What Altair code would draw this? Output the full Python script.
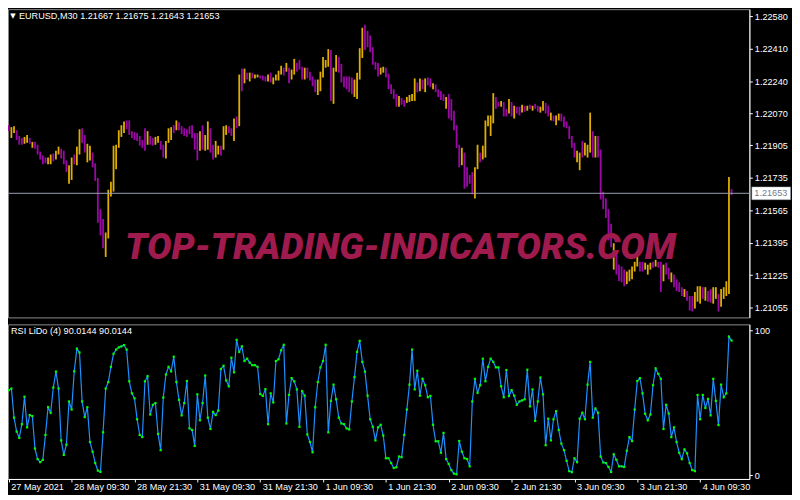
import altair as alt
import pandas as pd

SYMBOL_TITLE = "EURUSD,M30  1.21667 1.21675 1.21643 1.21653"
RSI_TITLE = "RSI LiDo (4) 90.0144 90.0144"
WATERMARK = "TOP-TRADING-INDICATORS.COM"
CURRENT_PRICE = [1.21653]
CURRENT_LABEL = ["1.21653"]

PRICE_TICKS = [1.22580, 1.22410, 1.22240, 1.22070, 1.21905, 1.21735,
               1.21565, 1.21395, 1.21225, 1.21055]
RSI_TICKS = [0, 100]
TIME_TICK_BARS = [0, 24, 48, 72, 96, 120, 144, 168, 192, 216, 240, 264]
TIME_LABELS = ["27 May 2021", "28 May 09:30", "28 May 21:30", "31 May 09:30",
               "31 May 21:30", "1 Jun 09:30", "1 Jun 21:30", "2 Jun 09:30",
               "2 Jun 21:30", "3 Jun 09:30", "3 Jun 21:30", "4 Jun 09:30"]

# bar highs / lows in points (1e-5), M30 bars from 27 May 21:30
HIGH_PTS = [
    122009, 121999, 122004, 121983, 121953, 121942, 121948, 121958, 121942, 121922,
    121922, 121907, 121871, 121851, 121840, 121840, 121856, 121861, 121876, 121897,
    121886, 121876, 121825, 121800, 121840, 121856, 121897, 121988, 121993, 121958,
    121912, 121902, 121866, 121810, 121733, 121570, 121519, 121448, 121672, 121713,
    121902, 121907, 121983, 122009, 122029, 122034, 122034, 121978, 121973, 121968,
    121953, 121932, 121993, 121978, 121953, 121942, 121948, 121953, 121927, 121907,
    121927, 121993, 121999, 122009, 122034, 122024, 122004, 121993, 121988, 122004,
    122009, 121968, 121968,
    121978, 122009, 121958, 122029, 121993, 121907, 121927, 121902, 121902, 122004,
    122009, 122004, 121993, 122044, 122055, 122274, 122305, 122305, 122284, 122284,
    122284, 122274, 122274, 122269, 122269, 122264, 122274, 122284, 122259, 122274,
    122294, 122320, 122310, 122335, 122310, 122300, 122356, 122335, 122350, 122315,
    122310, 122310, 122289, 122264, 122248, 122248, 122289, 122366, 122350, 122407,
    122402, 122310, 122376, 122366, 122330, 122264, 122264, 122264, 122259, 122248,
    122284, 122412, 122519, 122534, 122503, 122478, 122417, 122340, 122335, 122310,
    122315,
    122310, 122279, 122223, 122197, 122172, 122162, 122152, 122141, 122157, 122167,
    122172, 122254, 122233, 122254, 122248, 122254, 122259, 122254, 122228, 122223,
    122197, 122187, 122172, 122157, 122172, 122146, 122085, 122009, 121907, 121891,
    121866, 121789, 121749, 121764, 121789, 121907, 121866, 121902, 122034, 122060,
    122060, 122177, 122157, 122131, 122136, 122131, 122095, 122146, 122131, 122111,
    122106, 122106, 122116, 122111, 122111, 122116, 122111, 122121, 122111, 122106,
    122136, 122126, 122111, 122075, 122060, 122060, 122070, 122070, 122055, 122029,
    122004,
    121953, 121917, 121876, 121866, 121927, 121917, 121907, 122075, 121978, 121953,
    121953, 121881, 121662, 121626, 121570, 121494, 121392, 121341, 121280, 121270,
    121254, 121244, 121254, 121270, 121295, 121331, 121295, 121295, 121290, 121280,
    121290, 121295, 121305, 121295, 121295, 121280, 121290, 121264, 121239, 121228,
    121203, 121188, 121162, 121152, 121142, 121116, 121116, 121137, 121167, 121167,
    121162, 121162, 121142, 121152, 121162, 121162, 121127, 121152, 121162, 121193,
    121738, 121675,
]
LOW_PTS = [
    121978, 121942, 121968, 121932, 121907, 121907, 121912, 121917, 121912, 121891,
    121886, 121856, 121830, 121805, 121810, 121805, 121805, 121820, 121830, 121856,
    121835, 121805, 121764, 121703, 121723, 121805, 121800, 121856, 121917, 121866,
    121815, 121825, 121789, 121718, 121499, 121433, 121366, 121320, 121417, 121636,
    121662, 121779, 121891, 121948, 121968, 121988, 121958, 121942, 121932, 121927,
    121902, 121891, 121876, 121907, 121907, 121902, 121907, 121917, 121881, 121840,
    121835, 121917, 121932, 121968, 121983, 121983, 121963, 121953, 121948, 121963,
    121942, 121881, 121825,
    121876, 121881, 121876, 121881, 121866, 121830, 121840, 121856, 121851, 121881,
    121958, 121968, 121953, 121927, 121993, 122004, 122187, 122228, 122248, 122238,
    122254, 122254, 122259, 122254, 122243, 122238, 122238, 122233, 122223, 122243,
    122243, 122274, 122269, 122289, 122228, 122248, 122274, 122289, 122300, 122248,
    122248, 122254, 122243, 122213, 122182, 122167, 122187, 122259, 122310, 122315,
    122136, 122121, 122289, 122284, 122233, 122208, 122197, 122182, 122172, 122157,
    122146, 122248, 122361, 122402, 122417, 122391, 122325, 122300, 122264, 122274,
    122284,
    122259, 122197, 122172, 122146, 122106, 122106, 122116, 122106, 122126, 122131,
    122136, 122136, 122182, 122187, 122197, 122182, 122218, 122208, 122197, 122182,
    122157, 122141, 122136, 122095, 122044, 122034, 121983, 121891, 121789, 121800,
    121677, 121687, 121703, 121647, 121626, 121779, 121815, 121830, 121840, 122004,
    121953, 122019, 122095, 122106, 122106, 122055, 122055, 122070, 122055, 122044,
    122070, 122060, 122075, 122080, 122085, 122095, 122085, 122095, 122080, 122075,
    122085, 122070, 122055, 122034, 122029, 122009, 122034, 122029, 121999, 121993,
    121937,
    121891, 121840, 121815, 121774, 121840, 121851, 121840, 121866, 121840, 121840,
    121840, 121621, 121570, 121524, 121407, 121371, 121254, 121228, 121193, 121188,
    121167, 121178, 121193, 121203, 121244, 121270, 121244, 121244, 121254, 121228,
    121254, 121264, 121270, 121264, 121137, 121193, 121228, 121203, 121188, 121162,
    121142, 121137, 121116, 121111, 121091, 121040, 121035, 121050, 121086, 121076,
    121101, 121091, 121086, 121081, 121076, 121101, 121035, 121060, 121101, 121116,
    121127, 121643,
]
# U = bullish bar, D = bearish bar
DIRECTION = (
    "DUUDDDUUDU" "DDDDDUUDUU" "DDDUUDUUDD" "UUDDDDDUUU" "UUUUUDDDDD"
    "DDDUDDUUDD" "UUUDUDDDDD" "DDD"
    "UDUUDDUUDU" "UDDUDUDUDU" "DUUDDDUDUU" "UUDUDUUDDD" "UDDDDUUUUU"
    "DUUDDDDDDU" "UUUDDDDDDU" "U"
    "DDDDDUDDUU" "UUDUDUDDUD" "DDDUDDDDDU" "DDDDUUDUUU" "UUDDUDDUDU"
    "DDUDUDUDDU" "UDDUDUUDDD" "D"
    "DDUUDUUUDU" "DDDDDDUDDD" "DUUUUUDDUU" "UDUDDUDDUD" "DDDUDDDUUU"
    "DUDDUUDUUU" "UD"
)
RSI = [
    58.6, 59.7, 39.6, 30.0, 25.7, 35.1, 54.1, 32.9, 41.4, 40.7,
    18.3, 11.0, 8.9, 10.5, 27.7, 46.8, 43.0, 60.4, 71.4, 59.7,
    23.9, 13.9, 21.0, 50.8, 45.2, 71.6, 87.2, 84.6, 50.8, 40.0,
    46.8, 22.8, 16.1, 8.3, 3.1, 2.2, 29.5, 59.7, 64.2, 74.7,
    83.7, 86.6, 88.1, 88.8, 89.7, 86.6, 64.7, 56.4, 53.0, 38.5,
    27.7, 26.2, 64.7, 68.2, 41.8, 48.5, 49.7, 28.4, 17.2, 53.5,
    69.4, 74.7, 71.6, 81.7, 64.2, 51.9, 41.2, 49.7, 64.9, 32.2,
    31.1, 20.1, 55.7, 37.8, 49.7, 68.7, 39.6, 31.8, 43.6, 41.4,
    44.5, 73.2, 75.4, 65.3, 61.3, 81.0, 70.9, 93.3, 85.0, 88.8,
    78.7, 80.3, 77.6, 75.8, 75.8, 74.7, 55.9, 54.6, 59.3, 35.1,
    56.4, 50.1, 78.7, 79.9, 86.1, 89.9, 35.6, 55.3, 66.9, 64.7,
    59.1, 33.3, 57.9, 54.8, 28.0, 22.8, 15.7, 46.8, 64.2, 74.3,
    78.7, 89.9, 29.5, 51.2, 62.4, 52.3, 39.6, 35.6, 35.1, 32.2,
    31.5, 50.8, 67.6, 85.0, 92.6, 78.1, 71.4, 54.8, 38.5, 33.3,
    23.9, 32.9, 34.7, 27.3, 11.6, 11.6, 8.3, 4.9, 5.4,
    12.8, 12.3, 27.7, 45.2, 62.4, 86.6, 59.1, 72.0, 54.8, 66.4,
    62.0, 53.7, 54.6, 34.7, 23.3, 23.3, 15.4, 29.1, 11.0, 7.6,
    3.4, 1.0, 0.5, 23.5, 16.1, 11.6, 11.0, 6.0, 50.8, 66.4,
    56.8, 62.0, 80.3, 64.7, 74.7, 80.3, 78.1, 74.3, 74.3, 61.3,
    53.7, 72.5, 54.6, 58.6, 54.8, 48.5, 50.8, 51.5, 52.3, 72.7,
    47.4, 59.1, 37.4, 50.8, 67.3, 55.7, 20.6, 38.9, 23.9, 38.5,
    44.1, 31.1, 21.7, 17.2, 9.8, 2.7, 2.0, 11.6, 8.9, 38.9,
    43.0, 38.5, 62.4, 78.1, 39.6, 45.9, 43.0, 12.8, 8.7, 8.3,
    5.6, 2.2, 14.3, 10.5, 6.0, 6.0, 5.6, 16.8, 26.2, 23.5,
    45.2, 64.9, 66.9, 56.4, 42.3, 37.8, 41.8, 62.0, 73.6, 69.8,
    66.4, 31.8, 48.5, 42.5, 26.2, 32.9, 22.8, 15.4, 11.0, 17.7,
    15.0, 8.3, 3.4, 2.7, 55.3, 38.5, 55.3, 46.3, 52.6, 41.2,
    66.4, 51.2, 34.5, 62.4, 53.7, 56.4, 95.5, 92.8,
]

n = min(len(HIGH_PTS), len(LOW_PTS), len(DIRECTION))
price_df = pd.DataFrame({
    "bar": list(range(n)),
    "high": [h / 1e5 for h in HIGH_PTS[:n]],
    "low": [v / 1e5 for v in LOW_PTS[:n]],
    "dir": ["up" if c == "U" else "down" for c in DIRECTION[:n]],
})
rsi_df = pd.DataFrame({"bar": list(range(len(RSI))), "rsi": RSI})
cur_df = pd.DataFrame({"p": CURRENT_PRICE, "label": CURRENT_LABEL})

W, H1, H2 = 748, 311, 156
UP, DOWN = "#E0AE00", "#9C08A8"
FONT = "Liberation Sans"
FS = 9.2

x_scale = alt.Scale(domain=[-0.3, 282.8], nice=False, zero=False)
py_scale = alt.Scale(domain=[1.21004, 1.22616], nice=False, zero=False)
ry_scale = alt.Scale(domain=[-2.7, 104], nice=False, zero=False)

price_axis = alt.Axis(orient="right", values=PRICE_TICKS, format=".5f",
                      labelPadding=2, labelOverlap=False, labelFlush=False)

label_expr = "[" + ",".join("'%s'" % s for s in TIME_LABELS) + "][round(datum.value / 24)]"

bars = alt.Chart(price_df).mark_rule(strokeWidth=1.8).encode(
    x=alt.X("bar:Q", scale=x_scale, axis=None),
    y=alt.Y("low:Q", scale=py_scale, title=None, axis=price_axis),
    y2="high:Q",
    color=alt.Color("dir:N", scale=alt.Scale(domain=["up", "down"], range=[UP, DOWN]),
                    legend=None),
)

watermark = alt.Chart(pd.DataFrame({"t": [WATERMARK]})).mark_text(
    font="Roboto", fontSize=37, fontWeight=900, fontStyle="italic",
    color="#9F1A4D", align="center", baseline="middle"
).encode(x=alt.value(396), y=alt.value(241), text="t:N")

hline = alt.Chart(cur_df).mark_rule(color="#9AA0B0", strokeWidth=1).encode(
    y=alt.Y("p:Q", scale=py_scale, title=None, axis=price_axis)
)

box = alt.Chart(cur_df).mark_point(
    shape="M-1,-0.33L1,-0.33L1,0.33L-1,0.33Z", size=1520, filled=True,
    fill="white", stroke="#9AA0B0", strokeWidth=0.5, opacity=1, clip=False
).encode(x=alt.value(W + 22), y=alt.Y("p:Q", scale=py_scale, title=None, axis=price_axis))

box_text = alt.Chart(cur_df).mark_text(
    font=FONT, fontSize=FS, color="#6F7A8C", align="left", baseline="middle", clip=False
).encode(x=alt.value(W + 5), y=alt.Y("p:Q", scale=py_scale, title=None, axis=price_axis),
         text="label:N")

tri = alt.Chart(pd.DataFrame({"t": ["\u25BC"]})).mark_text(
    font="DejaVu Sans", fontSize=7, color="white", align="center", baseline="middle"
).encode(x=alt.value(5), y=alt.value(7), text="t:N")

title_top = alt.Chart(pd.DataFrame({"t": [SYMBOL_TITLE]})).mark_text(
    font=FONT, fontSize=FS, color="white", align="left", baseline="middle"
).encode(x=alt.value(11), y=alt.value(7), text="t:N")

top = alt.layer(bars, watermark, hline, box, box_text, tri, title_top).properties(
    width=W, height=H1
)

rx = alt.X("bar:Q", scale=x_scale, title=None,
           axis=alt.Axis(values=TIME_TICK_BARS, labelExpr=label_expr, labelAlign="left",
                         labelOffset=2, labelPadding=1, labelOverlap=False,
                         labelFlush=False))
ry = alt.Y("rsi:Q", scale=ry_scale, title=None,
           axis=alt.Axis(orient="right", values=RSI_TICKS, format="d", labelPadding=2,
                         labelFlush=False, labelOverlap=False))

rsi_line = alt.Chart(rsi_df).mark_line(color="#1E90FF", strokeWidth=1.2).encode(x=rx, y=ry)
rsi_pts = alt.Chart(rsi_df).mark_square(size=5, color="#00FF00", opacity=1).encode(x=rx, y=ry)
rsi_title = alt.Chart(pd.DataFrame({"t": [RSI_TITLE]})).mark_text(
    font=FONT, fontSize=FS, color="white", align="left", baseline="middle"
).encode(x=alt.value(3), y=alt.value(7), text="t:N")

bottom = alt.layer(rsi_line, rsi_pts, rsi_title).properties(width=W, height=H2)

chart = alt.vconcat(top, bottom, spacing=5).resolve_scale(
    x="independent", y="independent"
).configure(
    background="#000000",
    padding={"left": -3, "top": -2, "right": 0, "bottom": 0},
).configure_view(
    stroke="#8C8C8C", strokeWidth=1, fill="#000000"
).configure_axis(
    labelColor="white", tickColor="white", domainColor="white",
    labelFont=FONT, labelFontSize=FS, grid=False, tickSize=3, labelOverlap=False
)

chart.save("out.html", embed_options={"renderer": "svg", "actions": False})
